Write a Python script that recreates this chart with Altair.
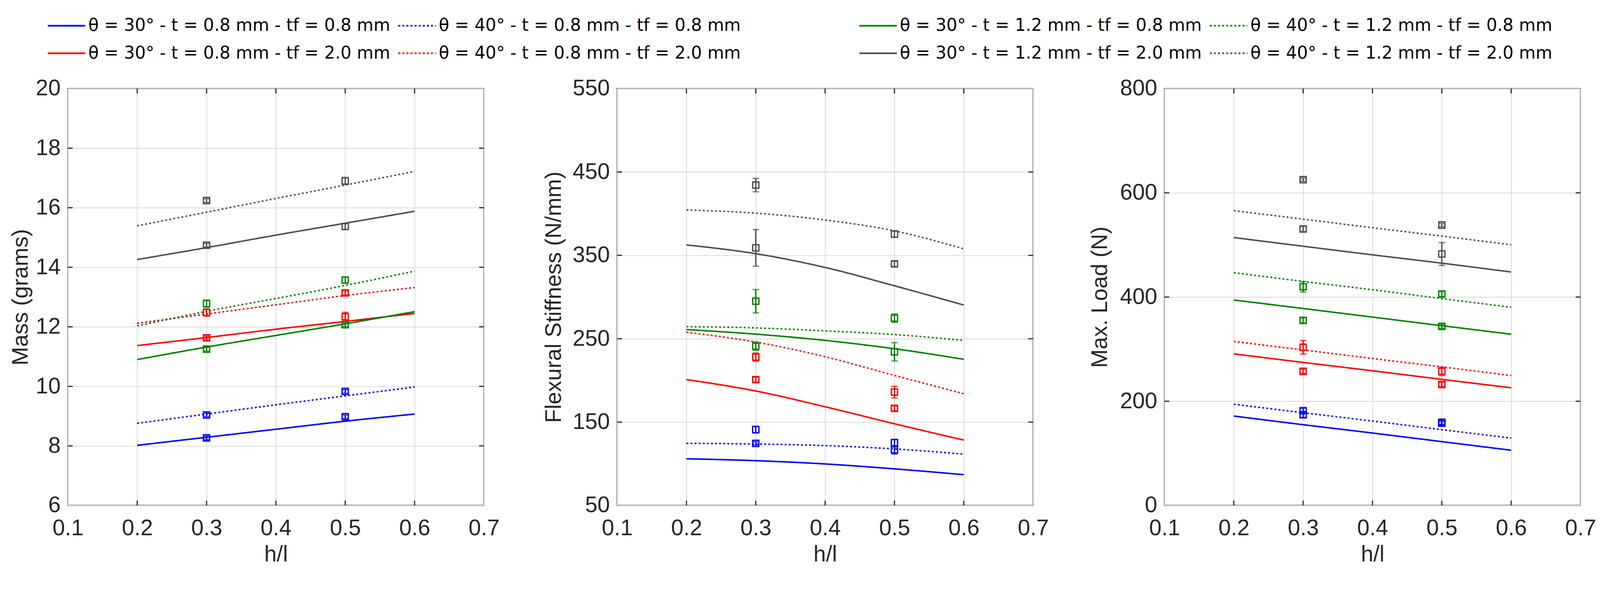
import altair as alt
import pandas as pd

# h/l positions of the fitted curves and of the tested specimens
HL = [0.2, 0.3, 0.4, 0.5, 0.6]
HL_TEST = [0.3, 0.5]
X_TICKS = [0.1, 0.2, 0.3, 0.4, 0.5, 0.6, 0.7]

LABELS = [
    "θ = 30° - t = 0.8 mm - tf = 0.8 mm",
    "θ = 40° - t = 0.8 mm - tf = 0.8 mm",
    "θ = 30° - t = 0.8 mm - tf = 2.0 mm",
    "θ = 40° - t = 0.8 mm - tf = 2.0 mm",
    "θ = 30° - t = 1.2 mm - tf = 0.8 mm",
    "θ = 40° - t = 1.2 mm - tf = 0.8 mm",
    "θ = 30° - t = 1.2 mm - tf = 2.0 mm",
    "θ = 40° - t = 1.2 mm - tf = 2.0 mm",
]
COLORS = ["#0000ff", "#0000ff", "#ff0000", "#ff0000",
          "#008000", "#008000", "#4d4d4d", "#4d4d4d"]
DASHES = [[1, 0], [11, 9]] * 4
LEGEND_DASHES = [[1, 0], [5, 6]] * 4

# mass (grams)
MASS_TICKS = [6, 8, 10, 12, 14, 16, 18, 20]
MASS_FIT = [
    [8.02, 8.29, 8.56, 8.83, 9.07],
    [8.76, 9.07, 9.38, 9.68, 9.98],
    [11.37, 11.64, 11.92, 12.18, 12.45],
    [12.12, 12.43, 12.74, 13.05, 13.32],
    [10.90, 11.32, 11.71, 12.10, 12.51],
    [12.03, 12.52, 12.95, 13.39, 13.87],
    [14.26, 14.66, 15.08, 15.48, 15.88],
    [15.39, 15.85, 16.31, 16.76, 17.22],
]
MASS_TEST = [[8.27, 8.98], [9.04, 9.83], [11.63, 12.34], [12.48, 13.14],
             [11.25, 12.07], [12.78, 13.57], [14.74, 15.37], [16.24, 16.90]]
MASS_ERR = [[0.06, 0.06], [0.06, 0.06], [0.06, 0.15], [0.12, 0.06],
            [0.06, 0.06], [0.12, 0.10], [0.06, 0.10], [0.06, 0.12]]

# flexural stiffness (N/mm)
STIFF_TICKS = [50, 150, 250, 350, 450, 550]
STIFF_FIT = [
    [106.0, 103.7, 99.8, 93.9, 86.9],
    [124.5, 123.7, 121.8, 117.8, 111.6],
    [201.0, 187.3, 168.4, 148.0, 128.4],
    [257.8, 246.0, 228.4, 206.0, 184.0],
    [261.0, 255.5, 248.0, 238.0, 225.3],
    [264.5, 263.0, 259.4, 255.0, 248.0],
    [362.5, 352.0, 335.5, 313.5, 290.4],
    [404.5, 400.6, 392.4, 379.4, 357.8],
]
STIFF_TEST = [[124.5, 116.7], [141.0, 125.3], [201.0, 166.5], [228.0, 186.0],
              [241.0, 234.3], [295.0, 274.7], [359.0, 339.8], [434.3, 375.5]]
STIFF_ERR = [[2, 5], [4, 4], [3, 3], [5, 7], [5, 11], [14, 5], [22, 3], [8, 4]]

# max. load (N)
LOAD_TICKS = [0, 200, 400, 600, 800]
LOAD_FIT = [
    [171.6, 155.0, 139.0, 122.5, 106.0],
    [194.3, 178.0, 162.0, 145.5, 129.3],
    [290.9, 274.5, 258.5, 242.0, 225.9],
    [314.8, 298.5, 282.0, 266.0, 249.2],
    [394.3, 378.0, 361.5, 345.0, 328.7],
    [446.7, 430.0, 414.0, 397.0, 380.4],
    [514.2, 497.5, 481.0, 465.0, 448.0],
    [565.9, 549.5, 533.0, 517.0, 500.3],
]
LOAD_TEST = [[174.0, 158.0], [181.7, 159.6], [257.4, 232.2], [303.5, 257.4],
             [355.2, 343.8], [419.6, 405.7], [530.6, 482.6], [625.2, 538.2]]
LOAD_ERR = [[5, 3], [5, 4], [4, 4], [13, 8], [5, 4], [10, 5], [5, 22], [3, 3]]

W = 1118
H = 1120
TICK_LEN = 13
FRAME = "#262626"
FONT = "Liberation Sans"

LEG_W = 1900
LEG_H = 106


def panel(fit, test, err, ticks, title, title_pad):
    fit_df = pd.DataFrame([
        {"series": LABELS[i], "hl": h, "value": v}
        for i, row in enumerate(fit) for h, v in zip(HL, row)
    ])
    test_df = pd.DataFrame([
        {"series": LABELS[i], "hl": h, "value": v, "lo": v - e, "hi": v + e}
        for i in range(len(LABELS))
        for h, v, e in zip(HL_TEST, test[i], err[i])
    ])
    caps_df = pd.concat([
        test_df.assign(value=test_df["lo"]),
        test_df.assign(value=test_df["hi"]),
    ])
    xt_df = pd.DataFrame({"hl": X_TICKS[1:-1]})
    yt_df = pd.DataFrame({"value": ticks[1:-1]})

    x_scale = alt.Scale(domain=[X_TICKS[0], X_TICKS[-1]], nice=False)
    y_scale = alt.Scale(domain=[ticks[0], ticks[-1]], nice=False, zero=False)
    x_axis = alt.Axis(values=X_TICKS, format=".1f", title="h/l")
    y_axis = alt.Axis(values=ticks, format="d", title=title, titlePadding=title_pad)
    x = alt.X("hl:Q", scale=x_scale, axis=x_axis)
    y = alt.Y("value:Q", scale=y_scale, axis=y_axis)
    color = alt.Color("series:N", scale=alt.Scale(domain=LABELS, range=COLORS), legend=None)
    dash = alt.StrokeDash("series:N", scale=alt.Scale(domain=LABELS, range=DASHES), legend=None)

    lines = alt.Chart(fit_df).mark_line(strokeWidth=4, interpolate="monotone").encode(
        x=x, y=y, color=color, strokeDash=dash, detail="series:N"
    )
    bars = alt.Chart(test_df).mark_rule(strokeWidth=3.5).encode(
        x=x, y=alt.Y("lo:Q", scale=y_scale, axis=y_axis), y2="hi:Q", color=color
    )
    caps = alt.Chart(caps_df).mark_tick(orient="horizontal", size=17, thickness=3.5).encode(
        x=x, y=y, color=color
    )
    pts = alt.Chart(test_df).mark_point(
        shape="square", size=280, strokeWidth=3.5, filled=False, opacity=1
    ).encode(x=x, y=y, color=color)

    # MATLAB style inward ticks on all four sides of the box
    tick_mark = dict(color=FRAME, strokeWidth=3)
    t_bottom = alt.Chart(xt_df).mark_rule(**tick_mark).encode(
        x=x, y=alt.value(H), y2=alt.value(H - TICK_LEN))
    t_top = alt.Chart(xt_df).mark_rule(**tick_mark).encode(
        x=x, y=alt.value(0), y2=alt.value(TICK_LEN))
    t_left = alt.Chart(yt_df).mark_rule(**tick_mark).encode(
        y=y, x=alt.value(0), x2=alt.value(TICK_LEN))
    t_right = alt.Chart(yt_df).mark_rule(**tick_mark).encode(
        y=y, x=alt.value(W), x2=alt.value(W - TICK_LEN))

    return alt.layer(lines, bars, caps, pts, t_bottom, t_top, t_left, t_right).properties(
        width=W, height=H
    )


def legend_block(idx):
    leg = pd.DataFrame({
        "series": [LABELS[i] for i in idx],
        "col": [0, 1, 0, 1],
        "row": [0, 0, 1, 1],
    })
    leg["col_end"] = leg["col"] + 0.107
    # the block's origin sits on the first panel's left edge, so column 0 starts left of it
    xs = alt.Scale(domain=[0.0573, 0.0573 + LEG_W / 942], nice=False, zero=False)
    ys = alt.Scale(domain=[-0.027, -0.027 + LEG_H / 74], nice=False, zero=False, reverse=True)
    color = alt.Color("series:N", scale=alt.Scale(domain=LABELS, range=COLORS), legend=None)
    dash = alt.StrokeDash("series:N", scale=alt.Scale(domain=LABELS, range=LEGEND_DASHES), legend=None)
    sample = alt.Chart(leg).mark_rule(strokeWidth=4.5).encode(
        x=alt.X("col:Q", scale=xs, axis=None),
        x2="col_end:Q",
        y=alt.Y("row:Q", scale=ys, axis=None),
        color=color,
        strokeDash=dash,
    )
    text = alt.Chart(leg).mark_text(
        align="left", baseline="middle", dx=8, font="DejaVu Sans", fontSize=46, color="#000000"
    ).encode(
        x=alt.X("col_end:Q", scale=xs, axis=None),
        y=alt.Y("row:Q", scale=ys, axis=None),
        text="series:N",
    )
    return alt.layer(sample, text).properties(
        width=LEG_W, height=LEG_H, view=alt.ViewBackground(strokeWidth=0)
    )


p1 = panel(MASS_FIT, MASS_TEST, MASS_ERR, MASS_TICKS, "Mass (grams)", 9)
p2 = panel(STIFF_FIT, STIFF_TEST, STIFF_ERR, STIFF_TICKS, "Flexural Stiffness (N/mm)", 18)
p3 = panel(LOAD_FIT, LOAD_TEST, LOAD_ERR, LOAD_TICKS, "Max. Load (N)", 22)

legend_row = alt.hconcat(legend_block([0, 1, 2, 3]), legend_block([4, 5, 6, 7]), spacing=224)
panels_row = alt.hconcat(alt.hconcat(p1, p2, spacing=113), p3, spacing=104)

chart = alt.vconcat(legend_row, panels_row, spacing=33).properties(
    padding={"left": 15, "top": 0, "right": 0, "bottom": 0}
).configure_view(
    stroke=FRAME, strokeWidth=3
).configure_axis(
    labelFont=FONT, titleFont=FONT, labelFontSize=60, titleFontSize=60,
    titleFontWeight="normal", labelColor=FRAME, titleColor=FRAME,
    grid=True, gridColor="#dedede", gridWidth=2.5,
    domain=False, ticks=False, tickSize=0, labelOverlap=False
).configure_axisX(
    labelPadding=32, titlePadding=12, labelFlush=False
).configure_axisY(
    labelPadding=20
)

chart.save("out.html", embed_options={"renderer": "svg", "actions": False})
